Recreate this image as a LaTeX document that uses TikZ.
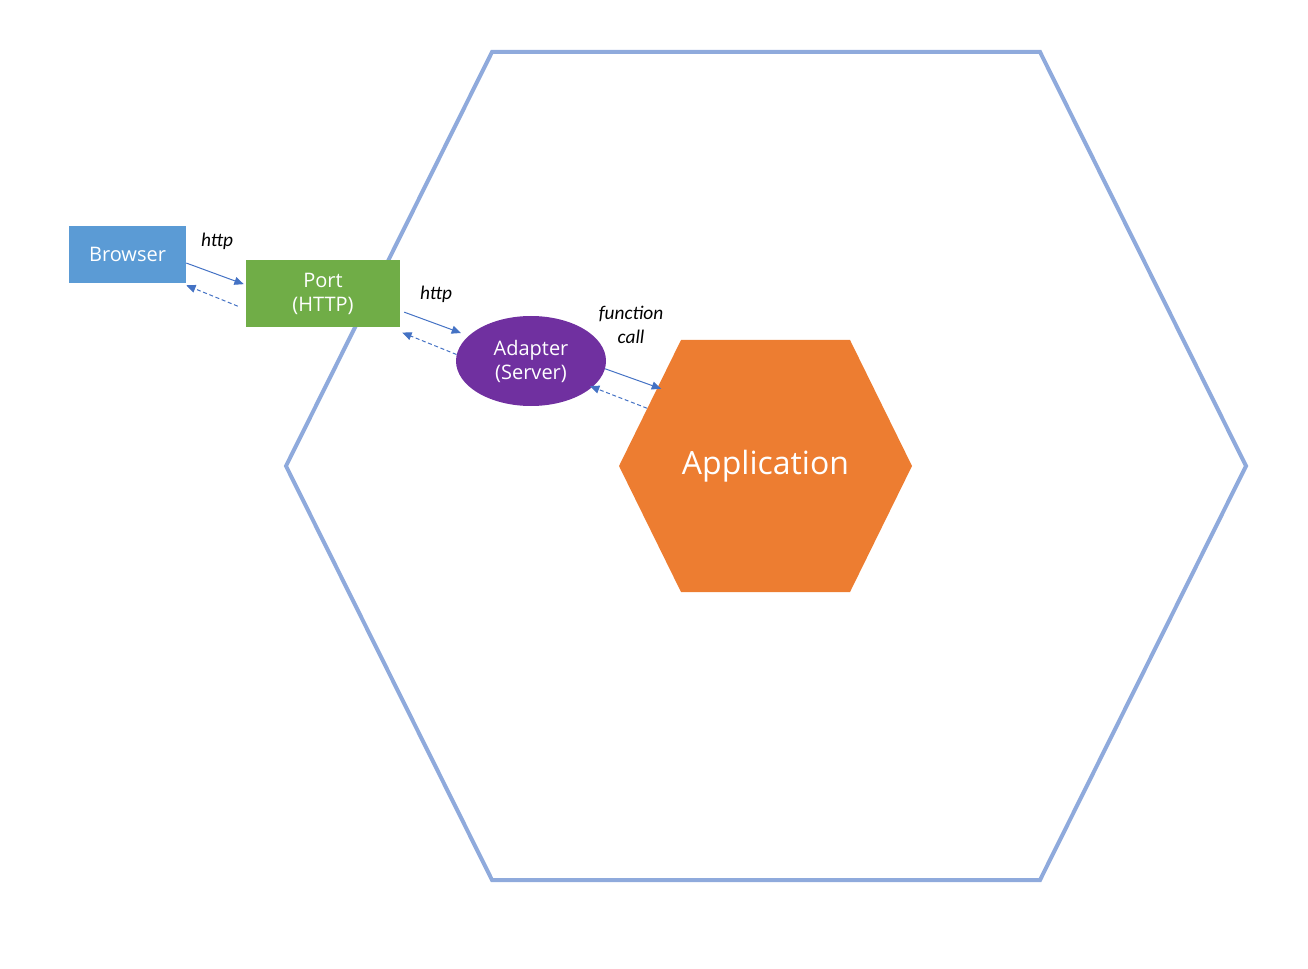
\documentclass[tikz,border=0pt]{standalone}
\usepackage{fontspec}
\setmainfont{Open Sans}
\newfontfamily\labelfont{Carlito}
\usetikzlibrary{shapes.geometric, shapes.symbols, arrows.meta}

\definecolor{hexblue}{HTML}{8FAADC}
\definecolor{browserblue}{HTML}{5B9BD5}
\definecolor{portgreen}{HTML}{70AD47}
\definecolor{adapterpurple}{HTML}{7030A0}
\definecolor{apporange}{HTML}{ED7D31}
\definecolor{arrowblue}{HTML}{4472C4}

\tikzset{
  box/.style={fill=#1, text=white, align=center, inner sep=0pt, font=\fontsize{15}{18}\selectfont},
  flow/.style={draw=arrowblue, line width=0.75pt, -{Triangle[length=7pt,width=6pt]}},
  back/.style={flow, dash pattern=on 3pt off 2pt},
  lbl/.style={font=\labelfont\itshape\fontsize{14.5}{18}\selectfont, align=center}
}

\begin{document}
\begin{tikzpicture}[x=0.75pt, y=-0.75pt]
\useasboundingbox (0,0) rectangle (1308,969);

%Outer hexagon
\draw[hexblue, line width=3pt, line join=miter]
(492,52) --
(1040,52) --
(1246,466) --
(1040,880) --
(492,880) --
(286,466) --
cycle;

%Application
\node[box=apporange, signal, signal to=west and east, signal pointer angle=127.6,
      minimum width=219.75pt, minimum height=189pt,
      font=\fontsize{24}{28}\selectfont] (app) at (765.5,466) {Application};

%Browser and port
\node[box=browserblue, rectangle, minimum width=87.75pt, minimum height=42.75pt] (browser) at (127.5,254.5) {Browser};
\node[box=portgreen, rectangle, minimum width=115.5pt, minimum height=50.25pt] (port) at (323,293.5) {Port\\(HTTP)};

%Adapter
\node[box=adapterpurple, ellipse, minimum width=112.5pt, minimum height=67.5pt] (adapter) at (531,361) {Adapter\\(Server)};

%Labels
\node[lbl] (http1) at (217,241) {http};
\node[lbl] (http2) at (436,294) {http};
\node[lbl] (call) at (631,325) {function\\call};

%Connectors
\draw[flow] ([yshift=-6.4pt]browser.east) -- ([xshift=-1.5pt, yshift=7pt]port.west);
\draw[back] ([xshift=-6pt, yshift=-9.5pt]port.west) -- ([yshift=-1.5pt]browser.south east);
\draw[flow, shorten >=6pt] ([xshift=3pt, yshift=-14pt]port.east) -- (adapter.158);
\draw[back] (adapter.175) -- ([xshift=1.5pt, yshift=-4pt]port.south east);
\draw[flow, shorten >=-3pt] (adapter.-6) -- (app.144);
\draw[back, shorten >=-2pt] (app.154) -- (adapter.-23);

\end{tikzpicture}
\end{document}
